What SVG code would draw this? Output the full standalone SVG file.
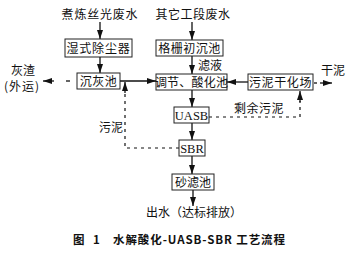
<svg xmlns="http://www.w3.org/2000/svg" width="350" height="259" viewBox="0 0 350 259">
<defs>
<marker id="ah" markerUnits="userSpaceOnUse" markerWidth="9" markerHeight="6" refX="9" refY="3" orient="auto">
<path d="M0,0 L9,3 L0,6 Z" fill="#111"/>
</marker>
<style>
.bx{fill:#fff;stroke:#222;stroke-width:1}
.t{font-family:"Noto Sans CJK SC","Noto Sans CJK JP",sans-serif;font-size:12px;fill:#111;text-anchor:middle}
.l{font-family:"Noto Sans CJK SC","Noto Sans CJK JP",sans-serif;font-size:12px;fill:#111}
.e{font-family:"Liberation Serif",serif;font-size:12.5px;fill:#111;text-anchor:middle}
.c{font-family:"Noto Sans CJK SC","Noto Sans CJK JP",sans-serif;font-size:11.5px;font-weight:bold;fill:#111}
.ln{stroke:#111;stroke-width:1.3;fill:none}
.ds{stroke:#111;stroke-width:1.2;fill:none;stroke-dasharray:3,4}
</style>
</defs>
<rect width="350" height="259" fill="#fff"/>
<g id="connectors">
<line class="ln" x1="100" y1="22" x2="100" y2="39" marker-end="url(#ah)"/>
<line class="ln" x1="192" y1="22" x2="192" y2="40" marker-end="url(#ah)"/>
<line class="ln" x1="100" y1="57" x2="100" y2="73" marker-end="url(#ah)"/>
<line class="ln" x1="192" y1="56" x2="192" y2="74" marker-end="url(#ah)"/>
<line class="ln" x1="120" y1="81" x2="156" y2="81" marker-end="url(#ah)"/>
<line class="ln" x1="248" y1="82" x2="227" y2="82" marker-end="url(#ah)"/>
<line class="ln" x1="66" y1="81" x2="70" y2="81"/>
<line class="ln" x1="54" y1="81" x2="43" y2="81" marker-end="url(#ah)"/>
<line class="ln" x1="314" y1="83" x2="317" y2="83"/>
<line class="ln" x1="320" y1="83" x2="332" y2="83" marker-end="url(#ah)"/>
<line class="ln" x1="192" y1="90" x2="192" y2="107" marker-end="url(#ah)"/>
<line class="ln" x1="192" y1="123" x2="192" y2="140" marker-end="url(#ah)"/>
<line class="ln" x1="192" y1="156" x2="192" y2="174" marker-end="url(#ah)"/>
<line class="ln" x1="193" y1="190" x2="193" y2="206" marker-end="url(#ah)"/>
<path class="ds" d="M209,117 H300 V101"/>
<line class="ln" x1="300" y1="102" x2="300" y2="91" marker-end="url(#ah)"/>
<path class="ds" d="M179,148 H125 V93"/>
<line class="ln" x1="125" y1="93" x2="125" y2="82" marker-end="url(#ah)"/>
</g>
<g id="n_top1"><text class="t" x="100" y="19" letter-spacing="0.8">煮炼丝光废水</text></g>
<g id="n_top2"><text class="t" x="193" y="19" letter-spacing="0.5">其它工段废水</text></g>
<g id="n_shichen"><rect class="bx" x="65" y="39" width="67" height="18"/><text class="t" x="98.5" y="52.5" letter-spacing="0.8">湿式除尘器</text></g>
<g id="n_gezha"><rect class="bx" x="156" y="40" width="67" height="16"/><text class="t" x="189.5" y="52.5" letter-spacing="0.5">格栅初沉池</text></g>
<g id="n_lvye"><text class="l" x="198" y="70" font-size="11">滤液</text></g>
<g id="n_chenhui"><rect class="bx" x="77" y="73" width="43" height="16"/><text class="t" x="98.5" y="85.5" letter-spacing="0.5">沉灰池</text></g>
<g id="n_tiaojie"><rect class="bx" x="156" y="74" width="71" height="16"/><text class="t" x="191.5" y="86.5" letter-spacing="0.2">调节、酸化池</text></g>
<g id="n_wunigan"><rect class="bx" x="248" y="74" width="65" height="16"/><text class="t" x="280.5" y="86.5" letter-spacing="0.6">污泥干化场</text></g>
<g id="n_huizha"><text class="t" x="23" y="74.5" font-size="11.5">灰渣</text><text class="t" x="22" y="91" font-size="11.5" letter-spacing="1">(外运)</text></g>
<g id="n_ganni"><text class="l" x="321" y="74.5">干泥</text></g>
<g id="n_shengyu"><text class="l" x="234" y="112.5" letter-spacing="0.5">剩余污泥</text></g>
<g id="n_uasb"><rect class="bx" x="174" y="107" width="35" height="16"/><text class="e" x="191.5" y="119.5">UASB</text></g>
<g id="n_wuni"><text class="l" x="99" y="131.5">污泥</text></g>
<g id="n_sbr"><rect class="bx" x="179" y="140" width="26" height="16"/><text class="e" x="192" y="152.5">SBR</text></g>
<g id="n_shalv"><rect class="bx" x="172" y="174" width="42" height="16"/><text class="t" x="193" y="186.5">砂滤池</text></g>
<g id="n_out"><text class="t" x="194" y="217" font-size="11">出水（达标排放）</text></g>
<g id="caption"><text class="c" x="73" y="244">图</text><text class="c" x="93" y="244">1</text><text class="c" x="113" y="244" textLength="172" lengthAdjust="spacing">水解酸化-UASB-SBR 工艺流程</text></g>
</svg>
